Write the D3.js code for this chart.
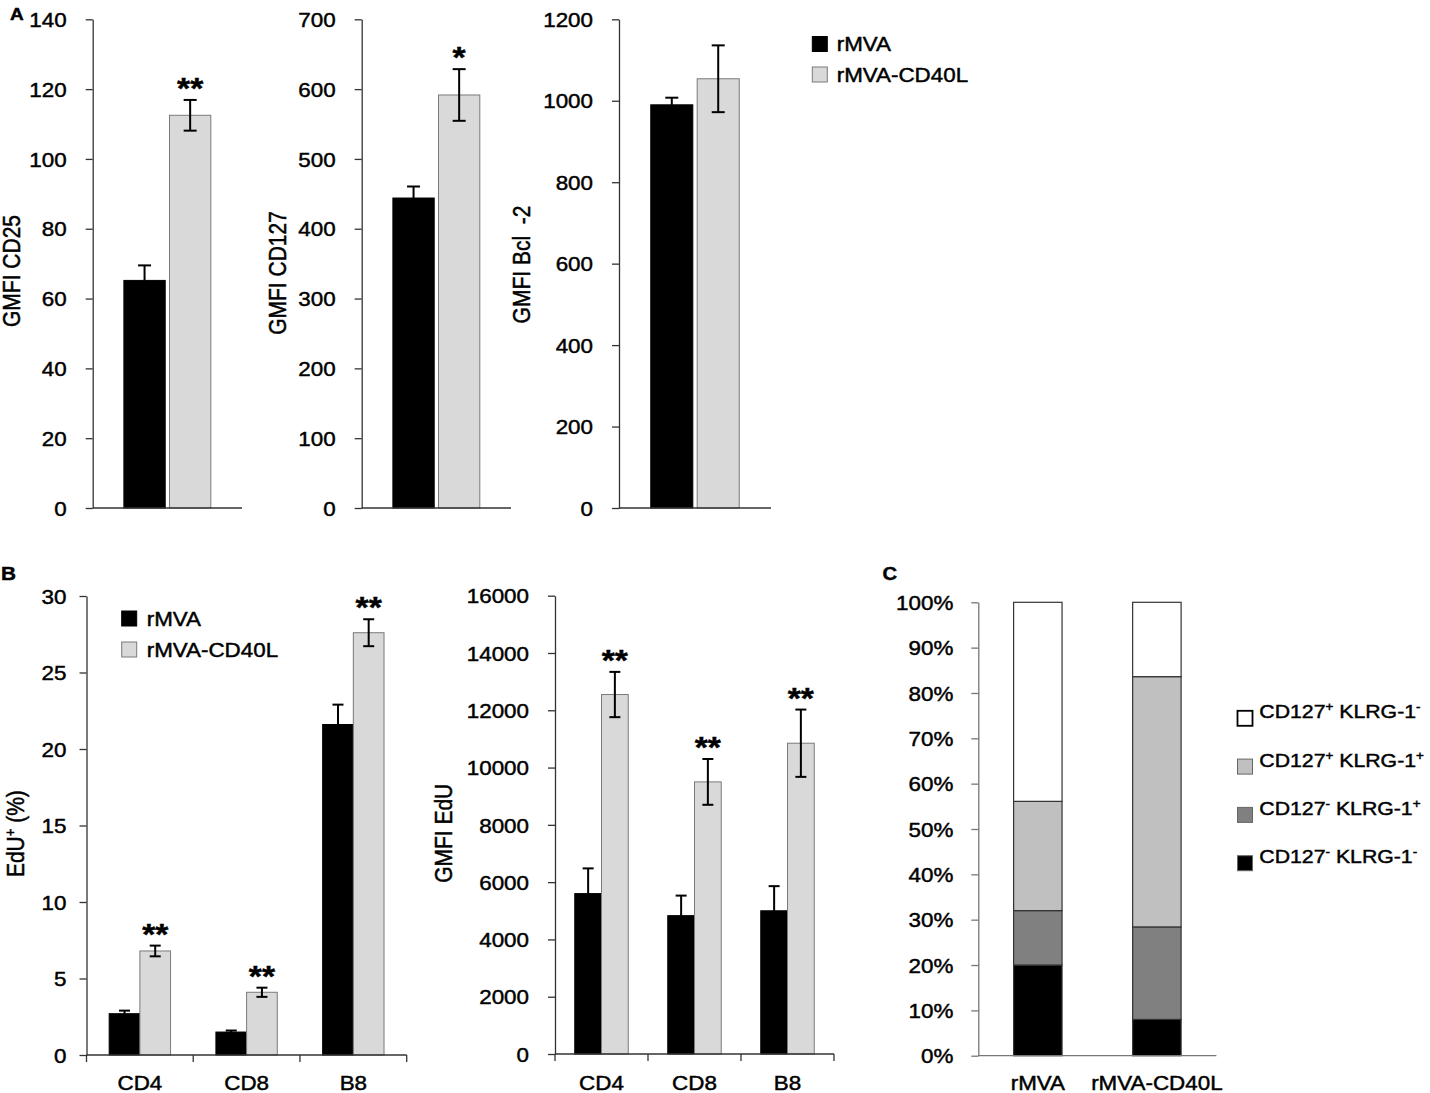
<!DOCTYPE html>
<html><head><meta charset="utf-8">
<script src="https://cdn.jsdelivr.net/npm/d3@7"></script>
<style>
body{margin:0;background:#fff;}
svg{display:block;font-family:"Liberation Sans",Arial,Helvetica,sans-serif;}
svg text{stroke:#000;stroke-width:0.45px;}
</style></head><body>
<svg id="chart" width="1430" height="1093"></svg>
<script>
// ---------------- DATA ----------------
const groups = ["rMVA", "rMVA-CD40L"];
// Panel A
const aTitles = ["GMFI CD25", "GMFI CD127", "GMFI Bcl  -2"];
const aMax = [140, 700, 1200];
const aStep = [20, 100, 200];
const cd25Mean = [65.2, 112.5], cd25Err = [4.3, 4.4];
const cd127Mean = [444, 591.6], cd127Err = [16.5, 37];
const bcl2Mean = [990, 1054], bcl2Err = [17.5, 82];
const aSig = [["", "**"], ["", "*"], ["", ""]];
// Panel B
const bCats = ["CD4", "CD8", "B8"];
const eduPctRMVA = [2.7, 1.5, 21.6], eduPctRMVAErr = [0.2, 0.1, 1.3];
const eduPctCD40L = [6.8, 4.1, 27.6], eduPctCD40LErr = [0.35, 0.3, 0.88];
const eduGmfiRMVA = [5600, 4830, 5000], eduGmfiRMVAErr = [880, 700, 860];
const eduGmfiCD40L = [12550, 9500, 10850], eduGmfiCD40LErr = [790, 800, 1175];
const bSig = ["**", "**", "**"];
const bMax = [30, 16000];
const bStep = [5, 2000];
// Panel C (stack order bottom -> top)
const cSubsets = ["CD127- KLRG-1-", "CD127- KLRG-1+", "CD127+ KLRG-1+", "CD127+ KLRG-1-"];
const cSubsetParts = [[["CD127","-"],["KLRG-1","-"]], [["CD127","-"],["KLRG-1","+"]], [["CD127","+"],["KLRG-1","+"]], [["CD127","+"],["KLRG-1","-"]]];
const cRMVA = [20, 12, 24.1, 43.9];
const cCD40L = [8, 20.4, 55.2, 16.4];
const cTicks = [0,10,20,30,40,50,60,70,80,90,100];

// ---------------- STYLE ----------------
const SX = 1.12;
const seriesFill = ["#000000", "#d9d9d9"];
const seriesStroke = ["#000000", "#7a7a7a"];
const cFill = ["#000000", "#808080", "#c0c0c0", "#ffffff"];
const svg = d3.select("#chart");

function txt(g, x, y, s, o = {}) {
  const t = g.append("text")
    .attr("transform", `translate(${x},${y}) scale(${SX},1)` + (o.rot ? ` rotate(${o.rot})` : ""))
    .attr("text-anchor", o.anchor || "start")
    .style("font-size", (o.size || 20) + "px")
    .attr("fill", "#000");
  if (o.bold) t.attr("font-weight", "bold");
  if (o.pre) t.style("white-space", "pre");
  t.text(s);
  return t;
}

function yAxis(g, y, ticks, fmt, x0, gap, size, color) {
  const a = g.append("g").attr("transform", `translate(${x0},0)`)
    .call(d3.axisLeft(y).tickValues(ticks).tickSize(7).tickSizeOuter(0).tickFormat(fmt));
  a.select(".domain").attr("stroke", color).attr("stroke-width", 1.3);
  a.selectAll(".tick line").attr("stroke", color).attr("stroke-width", 1.3);
  a.selectAll(".tick text")
    .attr("x", -gap / SX).attr("dy", "0.36em")
    .attr("transform", `scale(${SX},1)`)
    .style("font-size", size + "px").attr("fill", "#000");
  return a;
}

function errBar(g, x, y, m, e, cap) {
  const top = y(m + e), bot = y(m - e);
  g.append("line").attr("x1", x).attr("x2", x).attr("y1", top).attr("y2", bot).attr("stroke", "#000").attr("stroke-width", 2);
  g.append("line").attr("x1", x - cap/2).attr("x2", x + cap/2).attr("y1", top).attr("y2", top).attr("stroke", "#000").attr("stroke-width", 2);
  g.append("line").attr("x1", x - cap/2).attr("x2", x + cap/2).attr("y1", bot).attr("y2", bot).attr("stroke", "#000").attr("stroke-width", 2);
  return top;
}

// ---------------- PANEL A ----------------
const aMeans = [cd25Mean, cd127Mean, bcl2Mean];
const aErrs = [cd25Err, cd127Err, bcl2Err];
const aLayout = [
  {x0: 92.7, x1: 242, tx: 11.5, ty: 271},
  {x0: 361.7, x1: 511, tx: 277.2, ty: 273},
  {x0: 619, x1: 771, tx: 522, ty: 264.5}
];
const aTop = 19.3, aBot = 508;
aLayout.forEach((L, p) => {
  const g = svg.append("g");
  const y = d3.scaleLinear().domain([0, aMax[p]]).range([aBot, aTop]);
  const x = d3.scaleBand().domain(groups).range([L.x0, L.x1]).paddingInner(0.094).paddingOuter(0.684);
  groups.forEach((gr, i) => {
    g.append("rect").attr("x", x(gr)).attr("y", y(aMeans[p][i]))
      .attr("width", x.bandwidth()).attr("height", aBot - y(aMeans[p][i]))
      .attr("fill", seriesFill[i]).attr("stroke", seriesStroke[i]).attr("stroke-width", 1);
  });
  groups.forEach((gr, i) => {
    const cx = x(gr) + x.bandwidth() / 2;
    const top = errBar(g, cx, y, aMeans[p][i], aErrs[p][i], 13);
    if (aSig[p][i]) txt(g, cx, top - 2, aSig[p][i], {anchor: "middle", bold: true, size: 30});
  });
  yAxis(g, y, d3.range(0, aMax[p] + 1, aStep[p]), d3.format("d"), L.x0, 26, 20, "#333");
  g.append("line").attr("x1", L.x0).attr("x2", L.x1).attr("y1", aBot).attr("y2", aBot).attr("stroke", "#333").attr("stroke-width", 1.3);
  txt(g, L.tx + 8.4, L.ty, aTitles[p], {anchor: "middle", rot: -90, size: 21, pre: true});
});
// legend A
const legA = svg.append("g");
groups.forEach((gr, i) => {
  const yy = [36.5, 67][i];
  legA.append("rect").attr("x", 812.3).attr("y", yy).attr("width", 15).attr("height", 15)
    .attr("fill", seriesFill[i]).attr("stroke", seriesStroke[i]);
  txt(legA, 836.7, yy + 14.5, gr, {size: 20});
});
txt(svg, 10, 20.3, "A", {bold: true, size: 17});

// ---------------- PANEL B ----------------
const bData = [
  {m: [eduPctRMVA, eduPctCD40L], e: [eduPctRMVAErr, eduPctCD40LErr]},
  {m: [eduGmfiRMVA, eduGmfiCD40L], e: [eduGmfiRMVAErr, eduGmfiCD40LErr]}
];
const bLayout = [
  {x0: 86.5, x1: 406.7, top: 596, bot: 1055, gap: 20, tx: 15.3, ty: 833.6},
  {x0: 555, x1: 834, top: 595.7, bot: 1054, gap: 26, tx: 443.3, ty: 833.3}
];
bLayout.forEach((L, p) => {
  const g = svg.append("g");
  const y = d3.scaleLinear().domain([0, bMax[p]]).range([L.bot, L.top]);
  const xo = d3.scaleBand().domain(bCats).range([L.x0, L.x1]);
  const xi = d3.scaleBand().domain(groups).range([0, xo.bandwidth()]).paddingInner(0).paddingOuter(0.739);
  bCats.forEach((c, k) => {
    groups.forEach((gr, i) => {
      const v = bData[p].m[i][k];
      g.append("rect").attr("x", xo(c) + xi(gr)).attr("y", y(v))
        .attr("width", xi.bandwidth()).attr("height", L.bot - y(v))
        .attr("fill", seriesFill[i]).attr("stroke", seriesStroke[i]).attr("stroke-width", 1);
    });
  });
  bCats.forEach((c, k) => {
    groups.forEach((gr, i) => {
      const cx = xo(c) + xi(gr) + xi.bandwidth() / 2;
      const top = errBar(g, cx, y, bData[p].m[i][k], bData[p].e[i][k], 11);
      if (i === 1 && bSig[k]) txt(g, cx, top - 2, bSig[k], {anchor: "middle", bold: true, size: 30});
    });
  });
  yAxis(g, y, d3.range(0, bMax[p] + 1, bStep[p]), d3.format("d"), L.x0, L.gap, 20, "#333");
  // x axis
  g.append("line").attr("x1", L.x0).attr("x2", L.x1).attr("y1", L.bot).attr("y2", L.bot).attr("stroke", "#333").attr("stroke-width", 1.3);
  const bounds = bCats.map(c => xo(c)).concat([xo(bCats[bCats.length - 1]) + xo.bandwidth()]);
  bounds.forEach(bx => g.append("line").attr("x1", bx).attr("x2", bx).attr("y1", L.bot).attr("y2", L.bot + 7).attr("stroke", "#333").attr("stroke-width", 1.3));
  bCats.forEach(c => txt(g, xo(c) + xo.bandwidth() / 2, 1090, c, {anchor: "middle", size: 20}));
  // title
  if (p === 0) {
    const t = txt(g, L.tx + 8.4, L.ty, "", {anchor: "middle", rot: -90, size: 21});
    t.append("tspan").text("EdU");
    t.append("tspan").text("+").style("font-size", "13px").attr("dy", -8);
    t.append("tspan").text(" (%)").attr("dy", 8);
  } else {
    txt(g, L.tx + 8.4, L.ty, "GMFI EdU", {anchor: "middle", rot: -90, size: 21});
  }
});
// legend B
const legB = svg.append("g");
groups.forEach((gr, i) => {
  const yy = [611, 642][i];
  legB.append("rect").attr("x", 121.7).attr("y", yy).attr("width", 15).attr("height", 15)
    .attr("fill", seriesFill[i]).attr("stroke", seriesStroke[i]);
  txt(legB, 146.7, yy + 14.5, gr, {size: 20});
});
txt(svg, 1, 580.4, "B", {bold: true, size: 18.5});

// ---------------- PANEL C ----------------
(function () {
  const g = svg.append("g");
  const x0 = 978.3, x1 = 1216.4, top = 602.3, bot = 1055.7;
  const y = d3.scaleLinear().domain([0, 100]).range([bot, top]);
  const x = d3.scaleBand().domain(groups).range([x0, x1]).paddingInner(0.593).paddingOuter(0.2965);
  const table = groups.map((gr, i) => {
    const row = {group: gr};
    const vals = i === 0 ? cRMVA : cCD40L;
    cSubsets.forEach((s, k) => row[s] = vals[k]);
    return row;
  });
  const stack = d3.stack().keys(cSubsets)(table);
  stack.forEach((layer, k) => {
    layer.forEach(d => {
      g.append("rect").attr("x", x(d.data.group)).attr("y", y(d[1]))
        .attr("width", x.bandwidth()).attr("height", y(d[0]) - y(d[1]))
        .attr("fill", cFill[k]).attr("stroke", "#333").attr("stroke-width", 1.2);
    });
  });
  yAxis(g, y, cTicks, d => d + "%", x0, 25, 20, "#777");
  g.append("line").attr("x1", x0).attr("x2", x1).attr("y1", bot).attr("y2", bot).attr("stroke", "#777").attr("stroke-width", 1.3);
  groups.forEach(gr => txt(g, x(gr) + x.bandwidth() / 2, 1090, gr, {anchor: "middle", size: 20}));
  // legend (top to bottom reversed order)
  const order = [3, 2, 1, 0];
  order.forEach((k, r) => {
    const cy = 718.3 + r * 48.3;
    g.append("rect").attr("x", 1237.5).attr("y", cy - 7.5).attr("width", 15).attr("height", 15)
      .attr("fill", cFill[k]).attr("stroke", k === 3 ? "#000" : "#666").attr("stroke-width", k === 3 ? 1.8 : 1);
    const t = txt(g, 1259.3, cy, "", {size: 19});
    const parts = cSubsetParts[k];
    t.append("tspan").text(parts[0][0]);
    t.append("tspan").text(parts[0][1]).style("font-size", "12px").attr("dy", -7);
    t.append("tspan").text(" " + parts[1][0]).attr("dy", 7);
    t.append("tspan").text(parts[1][1]).style("font-size", "12px").attr("dy", -7);
  });
})();
txt(svg, 882.5, 579.7, "C", {bold: true, size: 18});
</script>
</body></html>
